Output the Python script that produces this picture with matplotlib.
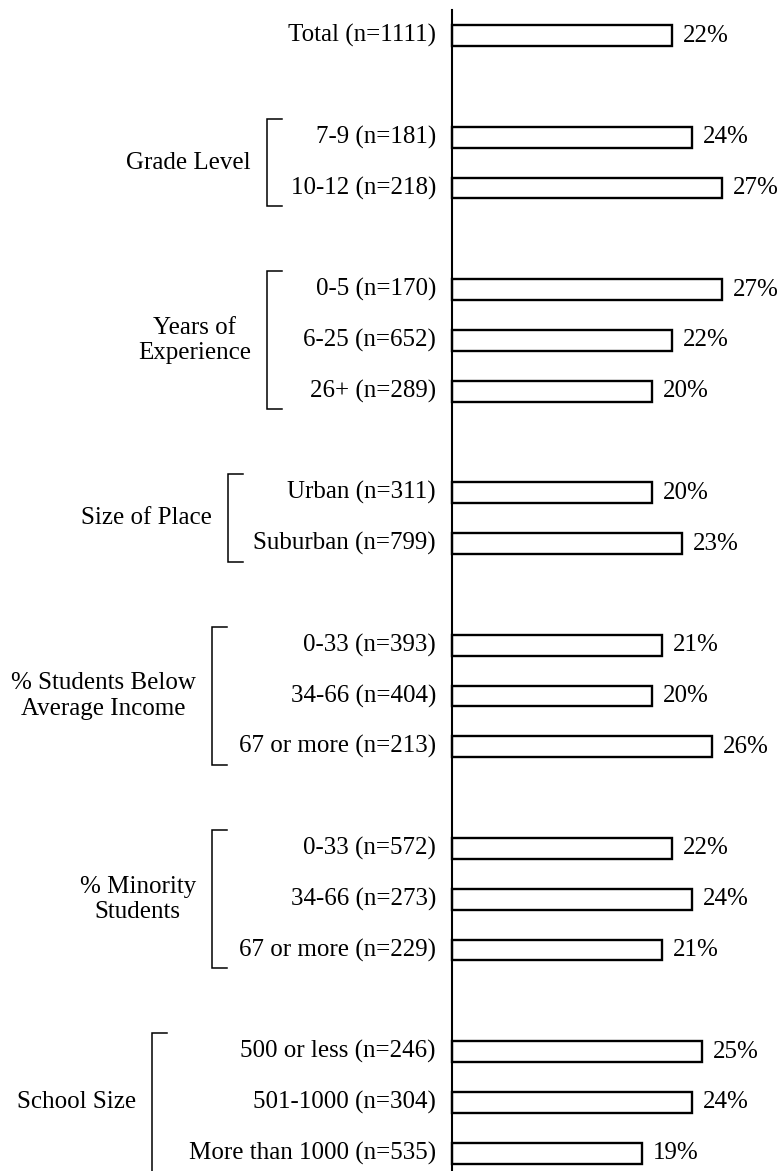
import matplotlib
matplotlib.use("Agg")
import matplotlib.pyplot as plt

plt.rcParams['font.family'] = ['Liberation Serif', 'DejaVu Serif']
plt.rcParams['font.size'] = 18

# ---------------- data ----------------
group_names = ['', 'Grade Level', 'Years of\nExperience', 'Size of Place',
               '% Students Below\nAverage Income', '% Minority\nStudents',
               'School Size']
row_labels = [
    ['Total (n=1111)'],
    ['7-9 (n=181)', '10-12 (n=218)'],
    ['0-5 (n=170)', '6-25 (n=652)', '26+ (n=289)'],
    ['Urban (n=311)', 'Suburban (n=799)'],
    ['0-33 (n=393)', '34-66 (n=404)', '67 or more (n=213)'],
    ['0-33 (n=572)', '34-66 (n=273)', '67 or more (n=229)'],
    ['500 or less (n=246)', '501-1000 (n=304)', 'More than 1000 (n=535)'],
]
row_values = [
    [22],
    [24, 27],
    [27, 22, 20],
    [20, 23],
    [21, 20, 26],
    [22, 24, 21],
    [25, 24, 19],
]

# bracket x position for each group (in % units, 0 = axis line)
bracket_x = [None, -18.5, -18.5, -22.4, -24.0, -24.0, -30.0]

# ---------------- layout ----------------
fig = plt.figure(figsize=(7.84, 11.71), dpi=100)
ax = fig.add_axes([0, 0, 1, 1])
ax.set_xlim(-45.2, 33.2)
ax.set_ylim(22.35, -0.70)
ax.axis('off')

slot = 0
for g, (name, labels, vals) in enumerate(zip(group_names, row_labels, row_values)):
    ys = list(range(slot, slot + len(labels)))
    ax.barh(ys, vals, height=0.41, left=0, color='white',
            edgecolor='black', linewidth=1.7, zorder=2)
    for y, lab, v in zip(ys, labels, vals):
        ax.text(-1.6, y, lab, ha='right', va='center')
        ax.text(v + 1.1, y, f'{v}%', ha='left', va='center')
    if name:
        bx = bracket_x[g]
        top, bot = ys[0] - 0.36, ys[-1] + 0.36
        ax.plot([bx + 1.5, bx, bx, bx + 1.5], [top, top, bot, bot],
                color='black', linewidth=1.1, solid_joinstyle='miter')
        ax.text(bx - 1.6, (ys[0] + ys[-1]) / 2, name, ha='right',
                va='center', multialignment='center', linespacing=1.2)
    slot += len(labels) + 1

# vertical axis line
ax.plot([0, 0], [-0.5, 22.35], color='black', linewidth=1.5, zorder=3)

fig.savefig('out.png', dpi=100, facecolor='white')
